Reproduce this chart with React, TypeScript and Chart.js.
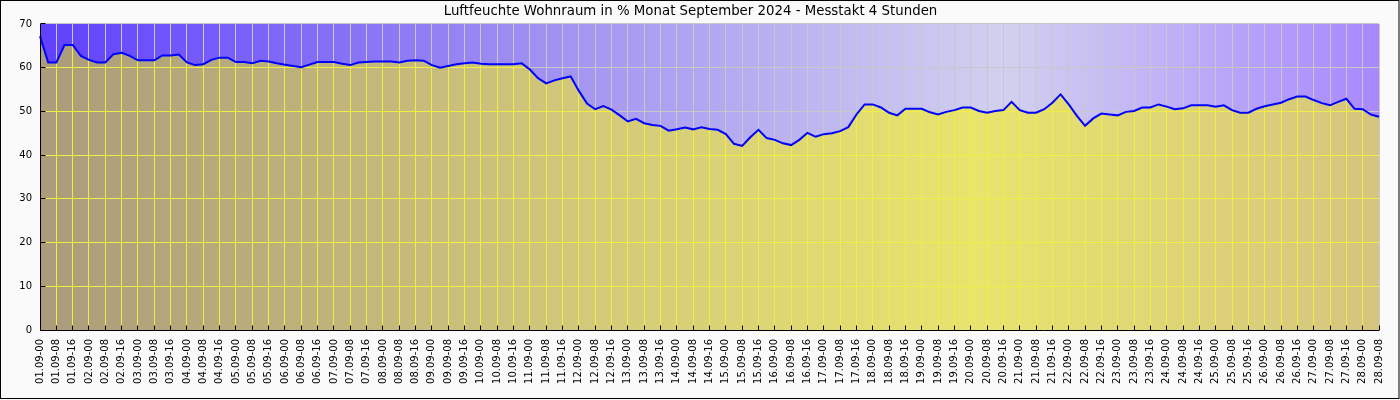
import React, { useEffect, useRef } from 'react';
import { Chart, registerables } from 'chart.js';

Chart.register(...registerables);

const TITLE = 'Luftfeuchte Wohnraum in % Monat September 2024 - Messtakt 4 Stunden';
const DAYS = ['01','02','03','04','05','06','07','08','09','10','11','12','13','14','15','16','17','18','19','20','21','22','23','24','25','26','27','28'];
const HOURS = ['00','04','08','12','16','20'];
const MONTH = '09';
const POINT_COUNT = 165;

const humidity = [
  67.2, 61.2, 61.2, 65.2, 65.2, 62.7, 61.8, 61.2, 61.2, 63.1,
  63.4, 62.7, 61.7, 61.7, 61.7, 62.8, 62.8, 63.0, 61.2, 60.6,
  60.8, 61.8, 62.3, 62.3, 61.3, 61.3, 61.0, 61.6, 61.4, 61.0,
  60.7, 60.4, 60.1, 60.7, 61.3, 61.3, 61.3, 60.9, 60.6, 61.2,
  61.3, 61.4, 61.4, 61.4, 61.2, 61.6, 61.7, 61.6, 60.6, 60.0,
  60.4, 60.8, 61.0, 61.2, 60.9, 60.8, 60.8, 60.8, 60.8, 61.0,
  59.6, 57.6, 56.4, 57.1, 57.6, 58.0, 54.7, 51.8, 50.5, 51.2,
  50.4, 49.1, 47.7, 48.3, 47.3, 46.9, 46.7, 45.6, 45.9, 46.3,
  45.9, 46.4, 46.0, 45.8, 44.8, 42.6, 42.1, 44.1, 45.8, 43.9,
  43.5, 42.7, 42.3, 43.5, 45.1, 44.2, 44.8, 45.0, 45.5, 46.4,
  49.3, 51.6, 51.6, 50.9, 49.7, 49.1, 50.6, 50.6, 50.6, 49.8,
  49.3, 49.9, 50.3, 50.9, 50.9, 50.1, 49.7, 50.1, 50.3, 52.2,
  50.3, 49.7, 49.7, 50.5, 52.0, 53.9, 51.6, 49.0, 46.7, 48.4,
  49.5, 49.3, 49.1, 49.9, 50.1, 50.9, 50.9, 51.6, 51.1, 50.5,
  50.7, 51.4, 51.4, 51.4, 51.1, 51.4, 50.3, 49.7, 49.7, 50.6,
  51.2, 51.6, 52.0, 52.8, 53.4, 53.4, 52.6, 51.9, 51.4, 52.2,
  52.9, 50.6, 50.5, 49.3, 48.8,
];

const Y_MIN = 0;
const Y_MAX = 70;
const Y_STEP = 10;

const categories: string[] = [];
for (const d of DAYS) for (const h of HOURS) categories.push(`${d}.${MONTH}-${h}`);
categories.length = POINT_COUNT;

const FONT = 'DejaVu Sans';
const GRID_UPPER = '#c8c8c8';
const GRID_LOWER = '#eeee44';

const align = (v: number) => Math.round(v - 0.5) + 0.5;

const paintPlugin = {
  id: 'paint',
  beforeDraw(chart: any) {
    const { ctx, chartArea: a, width, height } = chart;
    ctx.save();
    ctx.fillStyle = '#fafafa';
    ctx.fillRect(0, 0, width, height);
    ctx.strokeStyle = '#000';
    ctx.lineWidth = 1;
    ctx.strokeRect(0.5, 0.5, width - 1.5, height - 2);
    const g = ctx.createLinearGradient(a.left, 0, a.right, 0);
    g.addColorStop(0, '#6040ff');
    g.addColorStop(0.35, '#9c8cf2');
    g.addColorStop(0.72, '#d2d0f0');
    g.addColorStop(1, '#a888ff');
    ctx.fillStyle = g;
    ctx.fillRect(a.left, a.top, a.right - a.left, a.bottom - a.top);
    ctx.restore();
  },
  beforeDatasetsDraw(chart: any) {
    const { ctx, chartArea: a } = chart;
    const pts = chart.getDatasetMeta(0).data;
    const xs = chart.scales.x;
    const ys = chart.scales.y;
    const y0 = ys.getPixelForValue(Y_MIN);
    ctx.save();
    ctx.beginPath();
    ctx.moveTo(pts[0].x, y0);
    for (const p of pts) ctx.lineTo(p.x, p.y);
    ctx.lineTo(pts[pts.length - 1].x, y0);
    ctx.closePath();
    const g = ctx.createLinearGradient(a.left, 0, a.right, 0);
    g.addColorStop(0, '#aa9c7c');
    g.addColorStop(0.4, '#d2c87a');
    g.addColorStop(0.7, '#e8e46e');
    g.addColorStop(1, '#d4c480');
    ctx.fillStyle = g;
    ctx.fill();
    ctx.clip();
    ctx.strokeStyle = GRID_LOWER;
    ctx.lineWidth = 1;
    ctx.beginPath();
    for (let i = 0; i < categories.length; i += 2) {
      const x = align(xs.getPixelForValue(i));
      ctx.moveTo(x, a.top);
      ctx.lineTo(x, a.bottom);
    }
    for (const t of ys.ticks) {
      const y = align(ys.getPixelForValue(t.value));
      ctx.moveTo(a.left, y);
      ctx.lineTo(a.right, y);
    }
    ctx.stroke();
    ctx.restore();
  },
  afterDatasetsDraw(chart: any) {
    const { ctx, chartArea: a } = chart;
    const xs = chart.scales.x;
    const ys = chart.scales.y;
    ctx.save();
    ctx.strokeStyle = '#000';
    ctx.lineWidth = 1;
    ctx.beginPath();
    const bx = align(a.left);
    const by = align(a.bottom);
    ctx.moveTo(bx, a.top);
    ctx.lineTo(bx, by);
    ctx.lineTo(a.right, by);
    for (let i = 0; i < categories.length; i += 2) {
      const x = align(xs.getPixelForValue(i));
      ctx.moveTo(x, by - 5);
      ctx.lineTo(x, by);
    }
    for (const t of ys.ticks) {
      const y = align(ys.getPixelForValue(t.value));
      ctx.moveTo(bx, y);
      ctx.lineTo(bx + 5, y);
    }
    ctx.stroke();
    ctx.restore();
  },
};

export default function App() {
  const ref = useRef<HTMLCanvasElement | null>(null);
  useEffect(() => {
    document.body.style.margin = '0';
    const canvas = ref.current;
    if (!canvas) return;
    const chart = new Chart(canvas, {
      type: 'line',
      data: {
        labels: categories,
        datasets: [
          {
            data: humidity,
            borderColor: '#0000ff',
            borderWidth: 2,
            pointRadius: 0,
            tension: 0,
            fill: false,
          },
        ],
      },
      options: {
        responsive: false,
        animation: false,
        devicePixelRatio: 1,
        layout: { padding: { left: 0, right: 19, top: 0, bottom: 0 } },
        plugins: {
          legend: { display: false },
          tooltip: { enabled: false },
          title: {
            display: true,
            text: TITLE,
            color: '#000',
            font: { family: FONT, size: 13.33, weight: 'normal' },
            padding: { top: 4, bottom: 4 },
          },
        },
        scales: {
          x: {
            type: 'category',
            offset: false,
            afterFit: (s: any) => { s.height = 70; },
            border: { display: false },
            grid: {
              drawTicks: false,
              color: (c: any) => (c.index % 2 === 0 ? GRID_UPPER : 'rgba(0,0,0,0)'),
              lineWidth: 1,
            },
            ticks: {
              autoSkip: false,
              minRotation: 90,
              maxRotation: 90,
              padding: 9,
              color: '#000',
              font: { family: FONT, size: 10 },
              callback: (_v: any, i: number) => (i % 2 === 0 ? categories[i] : ''),
            },
          },
          y: {
            min: Y_MIN,
            max: Y_MAX,
            afterFit: (s: any) => { s.width = 40; },
            border: { display: false },
            grid: { drawTicks: false, color: GRID_UPPER, lineWidth: 1 },
            ticks: {
              stepSize: Y_STEP,
              padding: 8,
              color: '#000',
              font: { family: FONT, size: 10 },
            },
          },
        },
      },
      plugins: [paintPlugin],
    });
    return () => chart.destroy();
  }, []);
  return <canvas ref={ref} width={1400} height={400} style={{ display: 'block', width: 1400, height: 400 }} />;
}
